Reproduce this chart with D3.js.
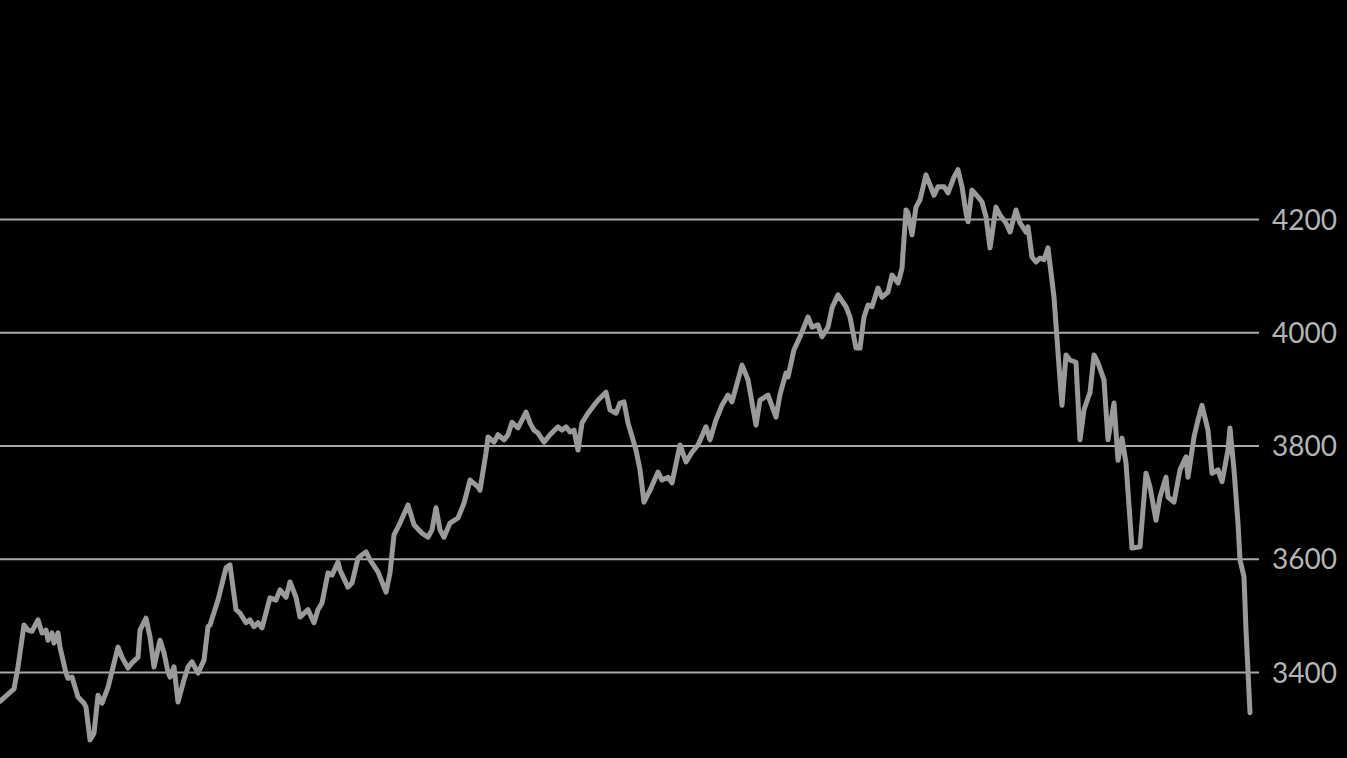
<!DOCTYPE html>
<html>
<head>
<meta charset="utf-8">
<script src="https://cdn.jsdelivr.net/npm/d3@7/dist/d3.min.js"></script>
<style>
  html, body { margin: 0; padding: 0; background: #000; }
  svg { display: block; }
</style>
</head>
<body>
<svg id="chart" width="1347" height="758"></svg>
<script>
// Trading-session index (read from horizontal position) and index level
const days = [0,7,9,12,14,16,19,21,23,24,26,27,29,30,33,34,36,39,42,43,45,47,49,51,54,59,61,64,66,69,70,73,75,77,80,82,84,85,87,89,92,94,96,99,102,104,105,109,113,115,118,120,123,125,127,129,131,135,138,140,143,145,148,150,154,157,159,161,164,166,169,170,174,176,179,181,183,185,189,193,195,197,200,204,207,211,214,216,218,220,222,225,229,232,235,239,240,243,244,247,249,252,254,256,259,261,263,265,267,269,272,275,279,281,283,285,287,289,291,294,297,299,303,305,308,310,312,314,318,320,322,325,329,331,334,336,340,343,346,349,353,355,358,361,364,366,369,371,374,378,380,384,388,390,393,394,397,400,404,406,409,411,414,416,419,423,425,428,430,432,434,436,439,441,444,446,449,451,453,454,456,458,460,463,465,467,469,472,474,477,479,481,483,484,486,489,491,493,495,498,500,503,505,508,510,513,514,516,518,520,522,524,527,530,531,533,535,538,540,542,544,545,547,549,552,554,557,559,561,563,566,570,573,575,578,580,583,584,587,590,593,594,597,599,601,604,606,609,611,614,615,617,619,620,622,623,625];
const values = [3348,3370,3409,3483,3474,3472,3492,3469,3474,3456,3469,3451,3469,3444,3398,3389,3391,3356,3345,3338,3280,3292,3359,3345,3373,3444,3426,3407,3416,3426,3474,3495,3462,3409,3456,3434,3400,3391,3409,3347,3386,3409,3418,3398,3421,3480,3483,3527,3584,3589,3510,3504,3487,3492,3480,3487,3478,3531,3527,3545,3532,3559,3532,3497,3510,3487,3510,3522,3575,3571,3594,3580,3550,3557,3601,3607,3612,3598,3577,3541,3575,3642,3663,3695,3660,3645,3638,3651,3690,3651,3638,3663,3672,3698,3739,3727,3721,3787,3815,3806,3819,3810,3819,3841,3831,3845,3859,3840,3827,3822,3806,3819,3833,3827,3833,3824,3827,3792,3840,3857,3871,3880,3894,3863,3857,3875,3877,3840,3792,3757,3700,3721,3753,3739,3744,3734,3801,3771,3788,3801,3833,3810,3845,3871,3889,3877,3916,3942,3916,3836,3880,3889,3850,3890,3928,3921,3969,3992,4027,4009,4013,3992,4009,4043,4066,4045,4027,3972,3972,4027,4048,4045,4078,4062,4071,4101,4087,4113,4216,4211,4172,4221,4234,4278,4260,4242,4257,4257,4246,4274,4287,4257,4211,4195,4251,4239,4230,4204,4149,4221,4207,4193,4177,4216,4193,4177,4186,4133,4124,4131,4128,4149,4062,3916,3871,3960,3951,3947,3810,3863,3884,3893,3960,3946,3916,3810,3875,3774,3813,3769,3619,3621,3751,3727,3668,3709,3744,3709,3700,3757,3780,3744,3815,3845,3871,3827,3751,3757,3736,3792,3831,3757,3663,3598,3568,3474,3328];
const yTicks = [3400, 3600, 3800, 4000, 4200];

const svg = d3.select("#chart");
svg.append("rect").attr("width", 1347).attr("height", 758).attr("fill", "#000");

const x = d3.scaleLinear().domain([0, 625]).range([0, 1250]);
const y = d3.scaleLinear().domain([3400, 4200]).range([672, 219]);

// gridlines + labels via axis
const axis = d3.axisRight(y)
  .tickValues(yTicks)
  .tickSize(1259)
  .tickPadding(13)
  .tickFormat(d3.format("d"));

const g = svg.append("g").call(axis);
g.select(".domain").remove();
g.selectAll(".tick line")
  .attr("stroke", "#a8a8a8")
  .attr("stroke-width", 2.2);
g.selectAll(".tick text")
  .attr("fill", "#b4b4b4")
  .attr("font-family", "Lato, 'Open Sans', sans-serif")
  .attr("font-size", 28)
  .attr("dy", "0.36em");

const data = days.map((d, i) => ({ d, v: values[i] }));
const line = d3.line().x(p => x(p.d)).y(p => y(p.v));

svg.append("path")
  .datum(data)
  .attr("fill", "none")
  .attr("stroke", "#9a9a9a")
  .attr("stroke-width", 5)
  .attr("stroke-linejoin", "round")
  .attr("stroke-linecap", "round")
  .attr("d", line);
</script>
</body>
</html>
